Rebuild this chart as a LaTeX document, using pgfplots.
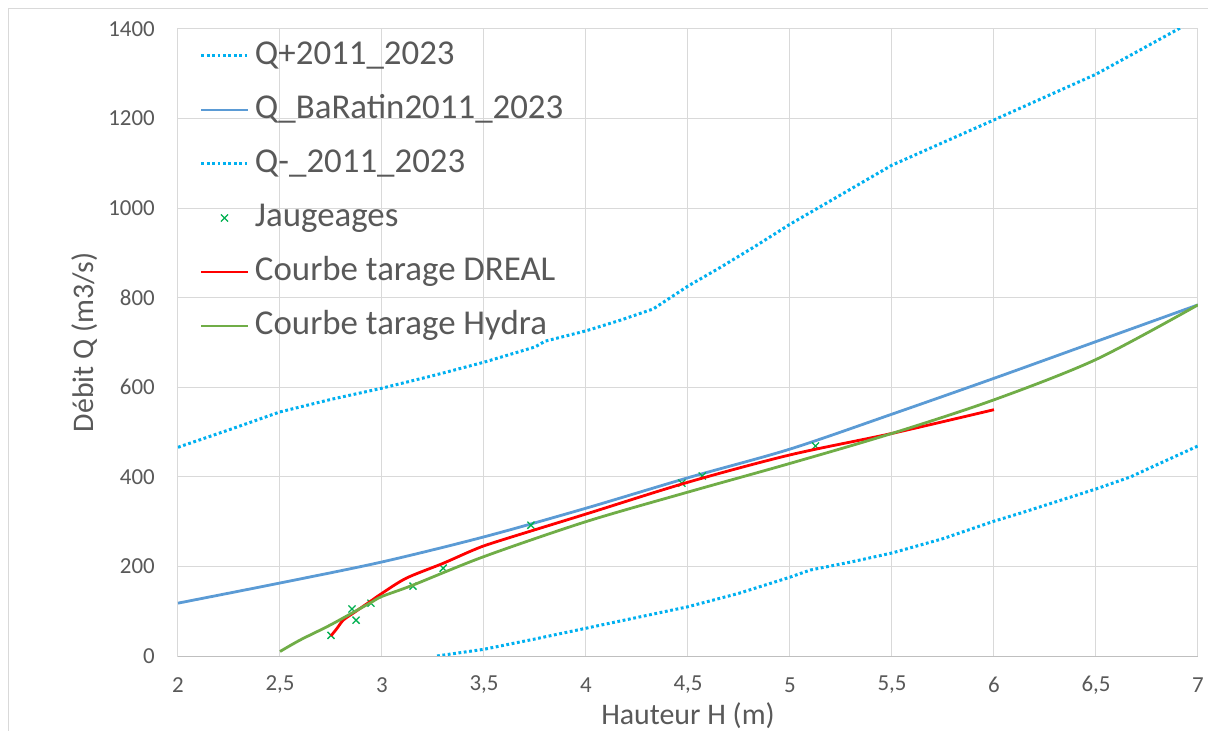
\documentclass[border=0pt]{standalone}
\usepackage{fontspec}
\setmainfont{Carlito}
\usepackage{pgfplots}
\pgfplotsset{compat=1.18}
\definecolor{txt}{HTML}{595959}
\definecolor{gridc}{HTML}{D9D9D9}
\definecolor{axc}{HTML}{BFBFBF}
\definecolor{qcyan}{HTML}{00B0F0}
\definecolor{qblue}{HTML}{5B9BD5}
\definecolor{qred}{HTML}{FF0000}
\definecolor{qgreen}{HTML}{70AD47}
\definecolor{mgreen}{HTML}{00B050}
\begin{document}
\begin{tikzpicture}
\useasboundingbox (-178bp,-75bp) rectangle (1030bp,656bp);
\fill[white] (-178bp,-75bp) rectangle (1030bp,656bp);
\draw[gridc, line width=1bp] (-169bp,-75bp) -- (-169bp,647bp) -- (1030bp,647bp);
\begin{axis}[
  at={(0,0)}, anchor=south west,
  scale only axis, width=1020bp, height=627bp,
  xmin=2, xmax=7, ymin=0, ymax=1400,
  xtick={2,2.5,3,3.5,4,4.5,5,5.5,6,6.5,7},
  ytick={0,200,400,600,800,1000,1200,1400},
  grid=major, major grid style={gridc, line width=1bp},
  axis line style={gridc, line width=1bp},
  major tick length=0pt,
  clip mode=individual,
  /pgf/number format/use comma,
  /pgf/number format/1000 sep={},
  /pgf/number format/assume math mode=true,
  xticklabel style={font=\fontsize{23}{23}\selectfont, text=txt, inner sep=0pt, anchor=center, yshift=-29bp},
  yticklabel style={font=\fontsize{23}{23}\selectfont, text=txt, inner sep=0pt, anchor=east, xshift=-23bp},
  xlabel={Hauteur H (m)}, ylabel={Débit Q (m3/s)},
  xlabel style={font=\fontsize{30}{30}\selectfont, text=txt, at={(axis description cs:0.5,-0.0957)}, anchor=center},
  ylabel style={font=\fontsize{30}{30}\selectfont, text=txt, at={(axis description cs:-0.0912,0.5)}, anchor=center},
  legend cell align=left,
  legend style={at={(rel axis cs:0,1)}, anchor=north west, xshift=22bp, yshift=-10bp,
    draw=none, fill=none, inner sep=0pt, outer sep=0pt,
    font=\fontsize{35}{35}\selectfont, text=txt, row sep=20bp,
    nodes={inner sep=0pt, text height=26bp, text depth=8bp},
    /tikz/every odd column/.style={column sep=6bp}},
  legend image code/.code={\draw[mark repeat=2,mark phase=2,#1] plot coordinates {(0bp,0bp)(23bp,0bp)(46bp,0bp)};},
]
% Q+
\addplot[qcyan, line width=3bp, dash pattern=on 2.8bp off 2.6bp] coordinates {
(2.0,466)(2.25,505)(2.5,545)(2.75,573)(3.0,598)(3.25,626)(3.5,656)(3.75,690)(3.8,703)
(4.0,726)(4.17,750)(4.33,775)(4.5,826)(4.66,868)(4.83,915)(5.0,964)(5.25,1030)(5.5,1096)
(6.0,1197)(6.5,1299)(6.76,1364)(6.92,1404)(7.0,1430)};
\addlegendentry{Q+2011\_2023}
% BaRatin
\addplot[qblue, line width=2.8bp, smooth] coordinates {
(2.0,118)(2.5,163)(3.0,210)(3.5,266)(4.0,330)(4.5,398)(5.0,462)(5.5,540)(6.0,620)(6.5,702)(7.0,784)};
\addlegendentry{Q\_BaRatin2011\_2023}
% Q-
\addplot[qcyan, line width=3bp, dash pattern=on 2.8bp off 2.6bp] coordinates {
(3.27,0)(3.5,15)(3.75,38)(4.0,62)(4.25,86)(4.5,110)(4.75,140)(5.0,176)(5.1,192)(5.3,210)
(5.5,230)(5.75,262)(6.0,301)(6.13,319)(6.5,373)(6.67,400)(6.76,419)(7.0,469)};
\addlegendentry{Q-\_2011\_2023}
% Jaugeages
\addplot[only marks, mark=x, mark size=5bp, mgreen, line width=1.3bp] coordinates {
(2.75,46)(2.853,105)(2.873,80)(2.946,118)(3.152,156)(3.30,196)(3.73,292)(4.47,386)(4.57,402)(5.125,469)};
\addlegendentry{Jaugeages}
% DREAL
\addplot[qred, line width=2.8bp, smooth] coordinates {
(2.75,45)(2.78,62)(2.81,80)(2.86,96)(2.94,121)(3.0,140)(3.12,174)(3.3,207)(3.45,237)(3.56,255)
(4.0,317)(4.5,388)(5.0,449)(5.5,497)(6.0,550)};
\addlegendentry{Courbe tarage DREAL}
% Hydra
\addplot[qgreen, line width=2.8bp, smooth] coordinates {
(2.5,10)(2.6,36)(2.75,70)(2.94,118)(3.0,133)(3.15,158)(3.5,222)(4.0,300)(4.5,366)(5.0,430)
(5.5,497)(6.0,572)(6.5,662)(7.0,784)};
\addlegendentry{Courbe tarage Hydra}
\draw[axc, line width=1bp] (rel axis cs:0,0) -- (rel axis cs:1,0);
\end{axis}
\end{tikzpicture}
\end{document}
